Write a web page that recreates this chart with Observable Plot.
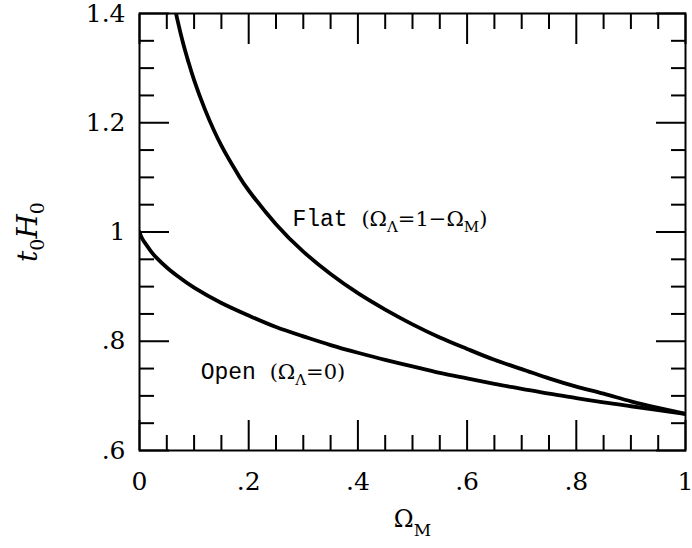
<!DOCTYPE html>
<html><head><meta charset="utf-8">
<script src="https://cdn.jsdelivr.net/npm/d3@7"></script>
<script src="https://cdn.jsdelivr.net/npm/@observablehq/plot@0.6"></script>
<style>body{margin:0;background:#fff}</style>
</head><body><div id="chart"></div>
<script>
// Flat universe curve (Omega_Lambda = 1 - Omega_M)
const omegaFlat = [0.065, 0.07, 0.08, 0.09, 0.1, 0.12, 0.15, 0.18, 0.2, 0.25, 0.3, 0.35, 0.4, 0.45, 0.5, 0.55, 0.6, 0.65, 0.7, 0.75, 0.8, 0.85, 0.9, 0.95, 1];
const t0H0Flat = [1.409, 1.386, 1.345, 1.310, 1.278, 1.224, 1.158, 1.106, 1.076, 1.014, 0.964, 0.923, 0.888, 0.858, 0.831, 0.807, 0.786, 0.766, 0.749, 0.732, 0.717, 0.704, 0.690, 0.678, 0.667];
// Open universe curve (Omega_Lambda = 0)
const omegaOpen = [0, 0.001, 0.0025, 0.005, 0.01, 0.02, 0.03, 0.05, 0.07, 0.1, 0.15, 0.2, 0.25, 0.3, 0.35, 0.4, 0.45, 0.5, 0.55, 0.6, 0.65, 0.7, 0.75, 0.8, 0.85, 0.9, 0.95, 1];
const t0H0Open = [1.000, 0.997, 0.993, 0.988, 0.980, 0.966, 0.954, 0.935, 0.919, 0.898, 0.870, 0.847, 0.826, 0.809, 0.793, 0.779, 0.766, 0.754, 0.742, 0.732, 0.722, 0.713, 0.704, 0.696, 0.688, 0.681, 0.674, 0.667];

const xMajorTicks = [0, 0.2, 0.4, 0.6, 0.8, 1];
const xTickLabels = ["0", ".2", ".4", ".6", ".8", "1"];
const xMinorTicks = [0.05, 0.1, 0.15, 0.25, 0.3, 0.35, 0.45, 0.5, 0.55, 0.65, 0.7, 0.75, 0.85, 0.9, 0.95];
const yMajorTicks = [0.6, 0.8, 1.0, 1.2, 1.4];
const yTickLabels = [".6", ".8", "1", "1.2", "1.4"];
const yMinorTicks = [0.65, 0.7, 0.75, 0.85, 0.9, 0.95, 1.05, 1.1, 1.15, 1.25, 1.3, 1.35];

const annotationWords = ["Flat", "Open"];
const annotationMath = ["(Ω_Λ=1−Ω_M)", "(Ω_Λ=0)"];
const annotationX = [0.28, 0.112];
const annotationY = [1.023, 0.743];

const xLabel = "Ω_M";
const yLabel = "t_0H_0";

const flat = omegaFlat.map((o, i) => ({o, t: t0H0Flat[i]}));
const open = omegaOpen.map((o, i) => ({o, t: t0H0Open[i]}));
const notes = annotationWords.map((w, i) => ({x: annotationX[i], y: annotationY[i], text: w + " " + annotationMath[i]}));

const xFmt = d => xTickLabels[xMajorTicks.indexOf(d)];
const yFmt = d => yTickLabels[yMajorTicks.findIndex(v => Math.abs(v - d) < 1e-9)];
const none = () => "";
const TW = 2;
const SERIF = "DejaVu Serif, Liberation Serif, serif";

const plot = Plot.plot({
  width: 692, height: 548,
  marginLeft: 139, marginRight: 7, marginTop: 13, marginBottom: 98,
  x: {domain: [0, 1], label: null},
  y: {domain: [0.6, 1.4], label: null},
  style: {background: "#fff", fontFamily: SERIF, color: "#000"},
  marks: [
    Plot.frame({stroke: "#000", strokeWidth: 2}),
    // inward ticks on all four sides
    Plot.axisX(xMinorTicks, {anchor: "bottom", tickSize: -15, tickFormat: none, strokeWidth: TW}),
    Plot.axisX(xMajorTicks, {anchor: "bottom", tickSize: -30, tickFormat: none, strokeWidth: TW}),
    Plot.axisX(xMinorTicks, {anchor: "top", tickSize: -15, tickFormat: none, strokeWidth: TW}),
    Plot.axisX(xMajorTicks, {anchor: "top", tickSize: -30, tickFormat: none, strokeWidth: TW}),
    Plot.axisY(yMinorTicks, {anchor: "left", tickSize: -15, tickFormat: none, strokeWidth: TW}),
    Plot.axisY(yMajorTicks, {anchor: "left", tickSize: -30, tickFormat: none, strokeWidth: TW}),
    Plot.axisY(yMinorTicks, {anchor: "right", tickSize: -15, tickFormat: none, strokeWidth: TW}),
    Plot.axisY(yMajorTicks, {anchor: "right", tickSize: -30, tickFormat: none, strokeWidth: TW}),
    // tick labels
    Plot.axisX(xMajorTicks, {anchor: "bottom", tickSize: 0, tickPadding: 22, tickFormat: xFmt, fontSize: 25, fontFamily: SERIF}),
    Plot.axisY(yMajorTicks, {anchor: "left", tickSize: 0, tickPadding: 14, tickFormat: yFmt, fontSize: 25, fontFamily: SERIF}),
    // curves
    Plot.line(flat, {x: "o", y: "t", curve: "natural", stroke: "#000", strokeWidth: 3.8, clip: true}),
    Plot.line(open, {x: "o", y: "t", curve: "natural", stroke: "#000", strokeWidth: 3.8, clip: true}),
    // annotations
    Plot.text(notes, {x: "x", y: "y", text: "text", textAnchor: "start", fontSize: 21}),
    // axis titles
    Plot.text([xLabel], {frameAnchor: "bottom", textAnchor: "middle", dy: 76, text: d => d, fontSize: 24}),
    Plot.text([yLabel], {frameAnchor: "left", textAnchor: "middle", dx: -111, rotate: -90, text: d => d, fontSize: 28})
  ]
});
document.getElementById("chart").appendChild(plot);

// rich text: "_X" makes X a subscript
const NS = "http://www.w3.org/2000/svg";
function addRuns(el, s, opts) {
  const base = opts.size, sub = opts.subSize;
  let i = 0, shifted = false;
  while (i < s.length) {
    let isSub = false, ch;
    if (s[i] === "_") { isSub = true; ch = s[i + 1]; i += 2; }
    else { let j = i; while (j < s.length && s[j] !== "_") j++; ch = s.slice(i, j); i = j; }
    const ts = document.createElementNS(NS, "tspan");
    ts.textContent = ch;
    ts.setAttribute("font-family", opts.family);
    ts.setAttribute("font-size", isSub ? sub : base);
    if (opts.italic && !isSub) ts.setAttribute("font-style", "italic");
    if (isSub && !shifted) { ts.setAttribute("dy", opts.shift); shifted = true; }
    else if (!isSub && shifted) { ts.setAttribute("dy", -opts.shift); shifted = false; }
    el.appendChild(ts);
  }
}
plot.querySelectorAll("text").forEach(t => {
  const s = t.textContent;
  const k = notes.findIndex(n => n.text === s);
  if (k >= 0) {
    t.textContent = "";
    const w = document.createElementNS(NS, "tspan");
    w.textContent = annotationWords[k] + " ";
    w.setAttribute("font-family", "Liberation Mono, Courier New, monospace");
    w.setAttribute("font-size", 23);
    t.appendChild(w);
    addRuns(t, annotationMath[k], {family: SERIF, size: 21, subSize: 15, shift: 6});
  } else if (s === xLabel) {
    t.textContent = "";
    addRuns(t, xLabel, {family: SERIF, size: 24, subSize: 17, shift: 9});
  } else if (s === yLabel) {
    t.textContent = "";
    addRuns(t, yLabel, {family: SERIF, size: 28, subSize: 19, shift: 7, italic: true});
  }
});
</script>
</body></html>
